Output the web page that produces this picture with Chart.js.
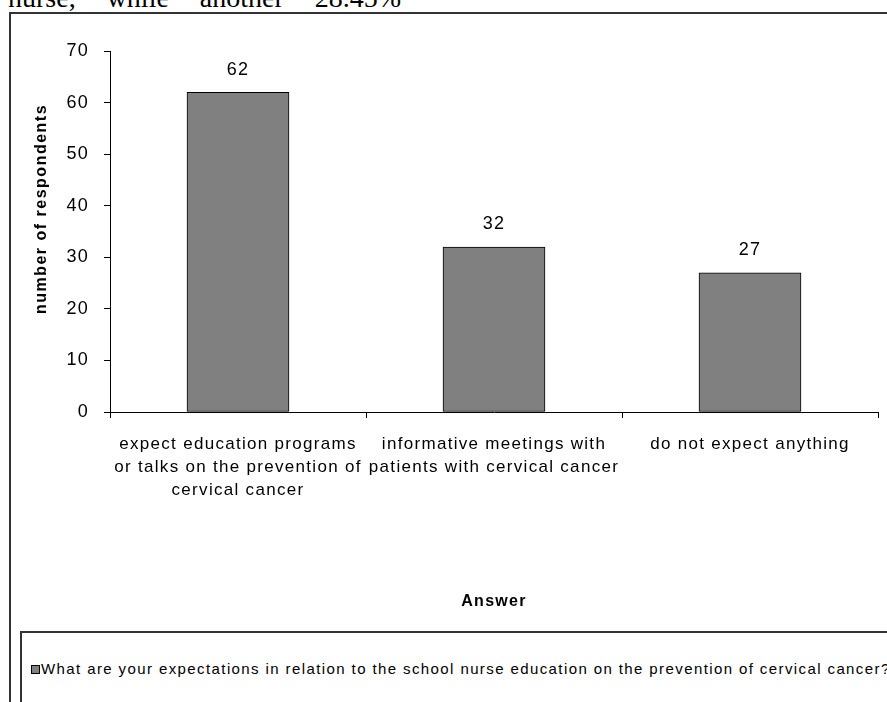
<!DOCTYPE html>
<html>
<head>
<meta charset="utf-8">
<script src="https://cdn.jsdelivr.net/npm/chart.js@4"></script>
<style>
    body {
        margin: 0;
        width: 887px;
        height: 702px;
        overflow: hidden;
        background: #fff;
        position: relative;
        font-family: "Liberation Sans", Arial, sans-serif;
    }
    #para {
        position: absolute;
        left: 8px;
        top: -16px;
        font: 28px "Liberation Serif", serif;
        line-height: 28px;
        white-space: nowrap;
        word-spacing: 24px;
    }
    #frame {
        position: absolute;
        left: 9px;
        top: 12px;
        width: 900px;
        height: 720px;
        border: 2px solid #333;
    }
    #legend-box {
        position: absolute;
        left: 20px;
        top: 631px;
        width: 900px;
        height: 100px;
        border: 2px solid #333;
    }
    #legend-item {
        position: absolute;
        left: 31px;
        top: 660px;
        font-size: 15px;
        letter-spacing: 1.4px;
        white-space: nowrap;
        color: #000;
    }
    #legend-item .swatch {
        display: inline-block;
        width: 7px;
        height: 7px;
        background: #808080;
        border: 1px solid #000;
        margin-right: 1px;
        vertical-align: 0px;
    }
    #chart {
        position: absolute;
        left: 0;
        top: 0;
    }
</style>
</head>
<body>
<div id="para">nurse, while another 28.45%</div>
<div id="frame"></div>
<div id="legend-box"></div>
<div id="legend-item"><span class="swatch"></span><span id="legend-text"></span></div>
<canvas id="chart" width="887" height="702"></canvas>

<script>
const categories = [
    ['expect education programs', 'or talks on the prevention of', 'cervical cancer'],
    ['informative meetings with', 'patients with cervical cancer'],
    ['do not expect anything']
];
const respondents = [62, 32, 27];
const yMin = 0;
const yMax = 70;
const yStep = 10;
const seriesLabel = 'What are your expectations in relation to the school nurse education on the prevention of cervical cancer?';
const xTitle = 'Answer';
const yTitle = 'number of respondents';

const FONT = '"Liberation Sans", Arial, sans-serif';

document.getElementById('legend-text').textContent = seriesLabel;

// the old spreadsheet look has loosely spaced glyphs
const letterSpacing = {
    id: 'letterSpacing',
    beforeLayout(chart) { chart.ctx.letterSpacing = '1.3px'; },
    beforeDraw(chart) { chart.ctx.letterSpacing = '1.3px'; }
};

// value above each bar
const valueLabels = {
    id: 'valueLabels',
    afterDatasetsDraw(chart) {
        const ctx = chart.ctx;
        const meta = chart.getDatasetMeta(0);
        ctx.save();
        ctx.font = '18px ' + FONT;
        ctx.fillStyle = '#000';
        ctx.textAlign = 'center';
        ctx.textBaseline = 'middle';
        meta.data.forEach((bar, i) => {
            ctx.fillText(String(respondents[i]), bar.x, bar.y - 22.5);
        });
        ctx.restore();
    }
};

// y axis title sits a bit above the middle of the plot
const yAxisTitle = {
    id: 'yAxisTitle',
    afterDraw(chart) {
        const ctx = chart.ctx;
        ctx.save();
        ctx.letterSpacing = '1.5px';
        ctx.font = 'bold 16px ' + FONT;
        ctx.fillStyle = '#000';
        ctx.textAlign = 'center';
        ctx.textBaseline = 'middle';
        ctx.translate(42, 209);
        ctx.rotate(-Math.PI / 2);
        ctx.fillText(yTitle, 0, 0);
        ctx.restore();
    }
};

Chart.defaults.font.family = FONT;
Chart.defaults.color = '#000';

new Chart(document.getElementById('chart').getContext('2d'), {
    type: 'bar',
    data: {
        labels: categories,
        datasets: [{
            label: seriesLabel,
            data: respondents,
            backgroundColor: '#808080',
            borderColor: '#000',
            borderWidth: 1,
            borderSkipped: false,
            barThickness: 102
        }]
    },
    options: {
        responsive: false,
        animation: false,
        devicePixelRatio: 1,
        layout: { padding: { top: 51, right: 9, bottom: 90, left: 0 } },
        plugins: {
            legend: { display: false },
            tooltip: { enabled: false }
        },
        scales: {
            x: {
                grid: {
                    display: true,
                    offset: true,
                    drawOnChartArea: false,
                    drawTicks: true,
                    tickLength: 6,
                    color: '#000'
                },
                border: { display: true, color: '#000', width: 1 },
                ticks: {
                    font: { size: 17, lineHeight: 1.35 },
                    padding: 15,
                    maxRotation: 0,
                    autoSkip: false
                },
                title: {
                    display: true,
                    text: xTitle,
                    font: { size: 16, weight: 'bold', lineHeight: 1.2 },
                    padding: { top: 0, bottom: 1 }
                },
                afterFit(scale) { scale.height = 200; }
            },
            y: {
                min: yMin,
                max: yMax,
                grid: {
                    display: true,
                    drawOnChartArea: false,
                    drawTicks: true,
                    tickLength: 6,
                    color: '#000'
                },
                border: { display: true, color: '#000', width: 1 },
                ticks: {
                    stepSize: yStep,
                    font: { size: 18 },
                    padding: 15
                },
                afterFit(scale) { scale.width = 110; }
            }
        }
    },
    plugins: [letterSpacing, valueLabels, yAxisTitle]
});
</script>
</body>
</html>
